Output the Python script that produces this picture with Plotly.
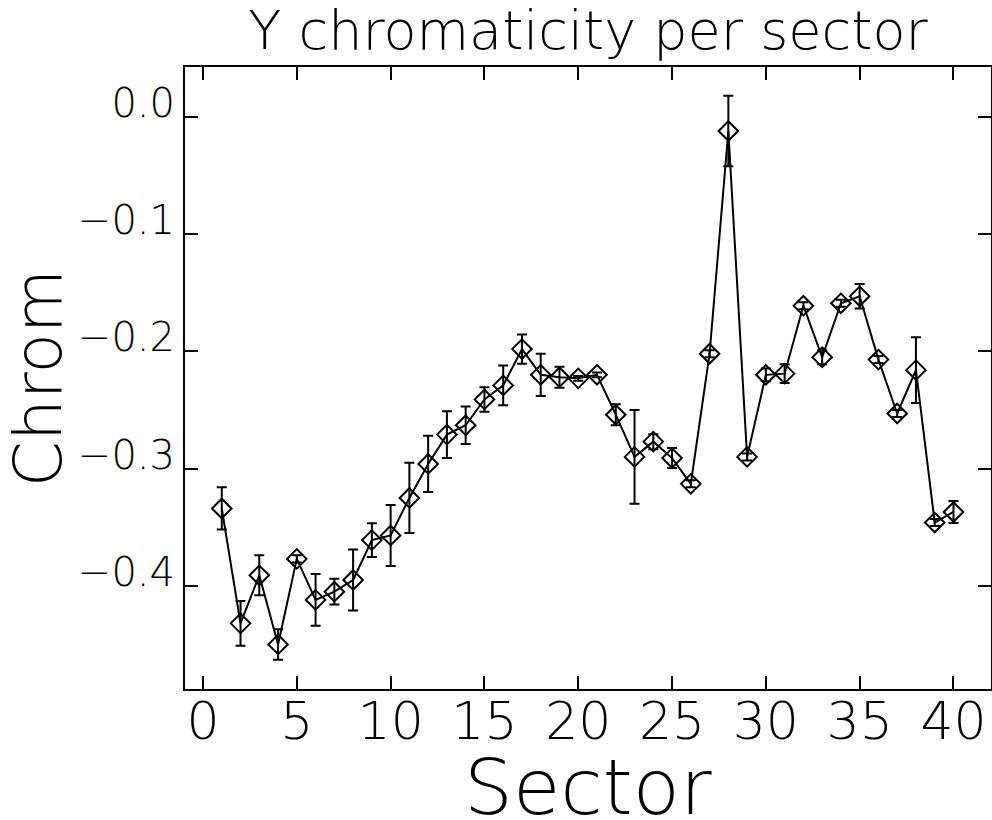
import plotly.graph_objects as go

sectors = list(range(1, 41))
chrom = [-0.334, -0.432, -0.391, -0.450, -0.377, -0.412, -0.405, -0.395, -0.361, -0.357,
         -0.325, -0.296, -0.271, -0.263, -0.241, -0.229, -0.198, -0.220, -0.222, -0.223,
         -0.220, -0.254, -0.290, -0.277, -0.291, -0.313, -0.202, -0.012, -0.290, -0.220,
         -0.219, -0.161, -0.205, -0.159, -0.153, -0.207, -0.253, -0.216, -0.346, -0.337]
chrom_err = [0.018, 0.019, 0.017, 0.013, 0.003, 0.022, 0.011, 0.026, 0.0145, 0.026,
             0.030, 0.024, 0.020, 0.016, 0.0105, 0.017, 0.0125, 0.018, 0.009, 0.002,
             0.002, 0.009, 0.040, 0.0064, 0.0085, 0.003, 0.003, 0.030, 0.003, 0.0055,
             0.008, 0.003, 0.006, 0.003, 0.0104, 0.003, 0.003, 0.028, 0.003, 0.0094]

xticks = [0, 5, 10, 15, 20, 25, 30, 35, 40]
yticks = [0.0, -0.1, -0.2, -0.3, -0.4]
ytick_text = ["0.0", "\u22120.1", "\u22120.2", "\u22120.3", "\u22120.4"]

FONT = "DejaVu Sans"

fig = go.Figure()
fig.add_trace(go.Scatter(
    x=sectors, y=chrom, mode="lines+markers",
    line=dict(color="black", width=2),
    marker=dict(symbol="diamond-open", size=15, color="black", line=dict(width=2, color="black")),
    error_y=dict(type="data", array=chrom_err, visible=True, color="black", thickness=2, width=5),
    showlegend=False,
))

fig.update_layout(
    width=992, height=820,
    margin=dict(l=185, r=1, t=67, b=131, autoexpand=False),
    paper_bgcolor="white", plot_bgcolor="white",
    title=dict(text="Y chromaticity per sector", xref="paper", x=0.5, xanchor="center",
               yref="container", y=0.986, yanchor="top",
               font=dict(family=FONT, size=54, color="black", weight=200)),
    font=dict(family=FONT, color="black"),
)

fig.add_annotation(
    text="Sector", xref="paper", yref="paper", x=0.5, y=-0.159,
    xanchor="center", yanchor="middle", showarrow=False,
    font=dict(family=FONT, size=77, color="black", weight=200),
)

fig.update_xaxes(
    range=[-0.96, 42.0], tickvals=xticks, ticks="inside", ticklen=13, tickwidth=2,
    tickcolor="black", showline=True, linecolor="black", linewidth=2, mirror="ticks",
    showgrid=False, zeroline=False, automargin=False,
    tickfont=dict(family=FONT, size=52, color="black", weight=200),
    ticklabelstandoff=-14,
)
fig.update_yaxes(
    range=[-0.488, 0.0426], tickvals=yticks, ticktext=ytick_text, ticks="inside", ticklen=13, tickwidth=2,
    tickcolor="black", showline=True, linecolor="black", linewidth=2, mirror="ticks",
    showgrid=False, zeroline=False, automargin=False,
    tickfont=dict(family=FONT, size=40, color="black", weight=200),
    ticklabelshift=-14, ticklabelstandoff=0,
    title=dict(text="Chrom", font=dict(family=FONT, size=66, color="black", weight=200), standoff=0),
)

fig.write_html(
    "out.html",
    config={"displayModeBar": False},
    post_script="document.body.style.margin='0';document.body.style.overflow='hidden';",
)
